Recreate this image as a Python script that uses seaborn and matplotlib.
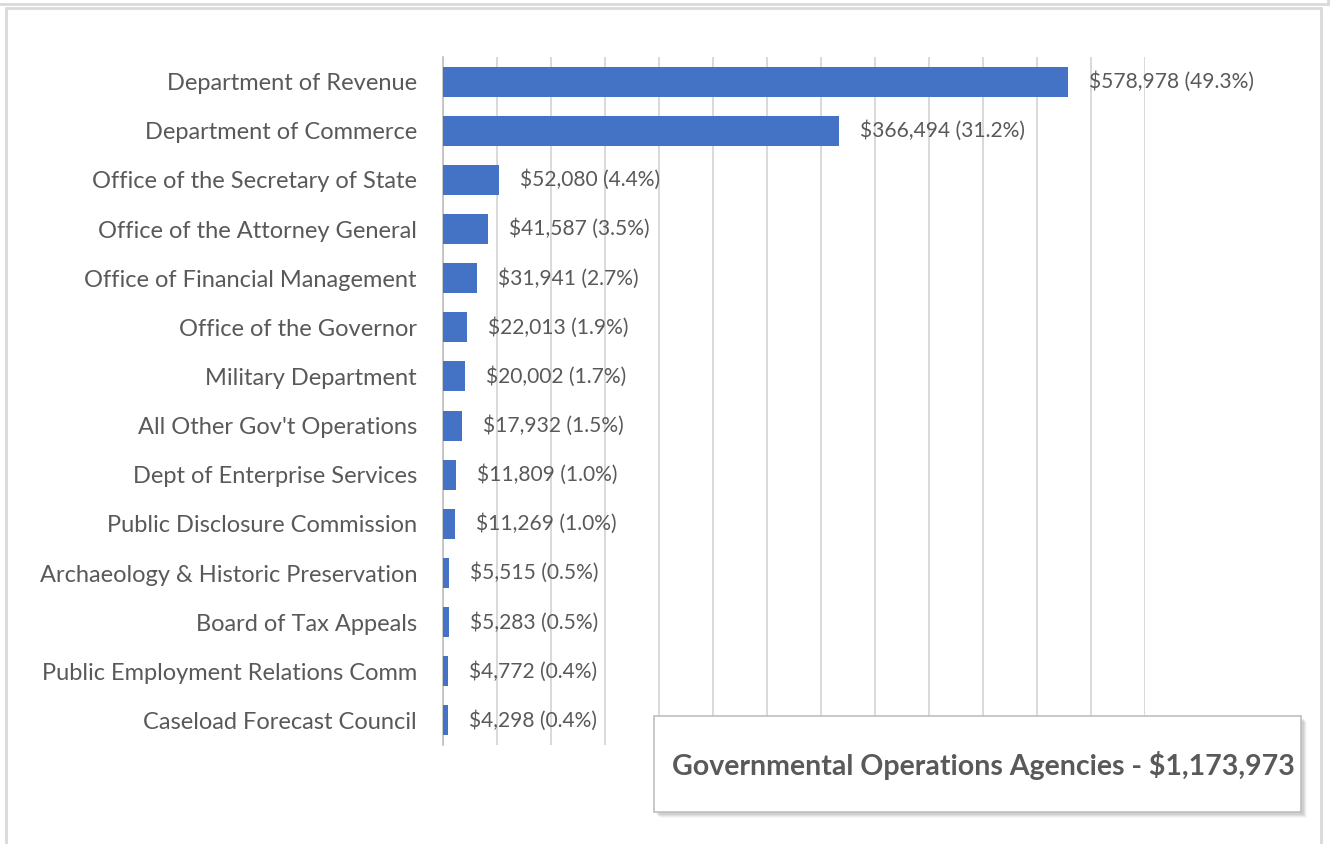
import matplotlib
matplotlib.use("Agg")
import matplotlib.pyplot as plt
from matplotlib.patches import Rectangle
from matplotlib.lines import Line2D
from matplotlib.ticker import MultipleLocator, FixedLocator
import pandas as pd
import seaborn as sns

agencies = [
    "Department of Revenue",
    "Department of Commerce",
    "Office of the Secretary of State",
    "Office of the Attorney General",
    "Office of Financial Management",
    "Office of the Governor",
    "Military Department",
    "All Other Gov't Operations",
    "Dept of Enterprise Services",
    "Public Disclosure Commission",
    "Archaeology & Historic Preservation",
    "Board of Tax Appeals",
    "Public Employment Relations Comm",
    "Caseload Forecast Council",
]
amounts = [578978, 366494, 52080, 41587, 31941, 22013, 20002,
           17932, 11809, 11269, 5515, 5283, 4772, 4298]
shares = [49.3, 31.2, 4.4, 3.5, 2.7, 1.9, 1.7, 1.5, 1.0, 1.0, 0.5, 0.5, 0.4, 0.4]
total_label = "Governmental Operations Agencies - $1,173,973"

TEXT = "#595959"
GRID = "#D9D9D9"
BLUE = "#4472C4"

sns.set_style("white")
plt.rcParams["font.family"] = ["Lato", "DejaVu Sans"]

W, H = 1330, 844
fig = plt.figure(figsize=(W / 100, H / 100), dpi=100)
ax = fig.add_axes([443 / W, 1 - 745 / H, (1145 - 443) / W, (745 - 57) / H])

df = pd.DataFrame({"agency": agencies, "amount": amounts})
sns.barplot(data=df, x="amount", y="agency", orient="h", color=BLUE,
            saturation=1, width=0.61, linewidth=0, ax=ax, zorder=3)

ax.set_xlim(0, 650000)
ax.xaxis.set_major_locator(MultipleLocator(50000))
ax.grid(axis="x", color=GRID, linewidth=1.4, zorder=0)
ax.grid(axis="y", visible=False)
ax.set_xticklabels([])
ax.tick_params(axis="x", length=0)
ax.set_xlabel("")
ax.set_ylabel("")

for s in ["top", "right", "bottom"]:
    ax.spines[s].set_visible(False)
ax.spines["left"].set_color("#BFBFBF")
ax.spines["left"].set_linewidth(1.2)

ax.tick_params(axis="y", which="major", length=0, pad=26 * 0.72,
               labelsize=17, labelcolor=TEXT)
ax.yaxis.set_minor_locator(FixedLocator([-0.5 + 2 * k for k in range(8)]))
ax.tick_params(axis="y", which="minor", length=8 * 0.72, width=1.2, color="#BFBFBF")

for i, (v, p) in enumerate(zip(amounts, shares)):
    ax.annotate(f"${v:,.0f} ({p:.1f}%)", xy=(v, i), xytext=(21 * 0.72, 0),
                textcoords="offset points", va="center", ha="left",
                fontsize=15.1, color=TEXT, zorder=4)

# frame lines around the chart area
def px_line(x0, y0, x1, y1, lw=2):
    fig.add_artist(Line2D([x0 / W, x1 / W], [1 - y0 / H, 1 - y1 / H],
                          transform=fig.transFigure, color=GRID, linewidth=lw))

px_line(0, 4, 1328, 4)
px_line(1328, 0, 1328, 4)
px_line(6, 8, 1321, 8)
px_line(6, 8, 6, H)
px_line(1321, 8, 1321, H)

# total box with a soft shadow
bx, by, bw, bh = 654, 716, 647, 96
for k, a in [(6, 0.06), (5, 0.08), (4, 0.12), (3, 0.15)]:
    fig.patches.append(Rectangle((bx / W + k / W, 1 - (by + bh + k) / H), bw / W, bh / H,
                                 transform=fig.transFigure, facecolor="#7F7F7F",
                                 edgecolor="none", alpha=a, zorder=5))
fig.patches.append(Rectangle((bx / W, 1 - (by + bh) / H), bw / W, bh / H,
                             transform=fig.transFigure, facecolor="white",
                             edgecolor="#BFBFBF", linewidth=1.2, zorder=6))
fig.text((bx + bw / 2 + 6) / W, 1 - (by + bh / 2 + 2) / H, total_label,
         ha="center", va="center", fontsize=20.5, fontweight="bold",
         color=TEXT, zorder=7)

fig.savefig("out.png", dpi=100)
